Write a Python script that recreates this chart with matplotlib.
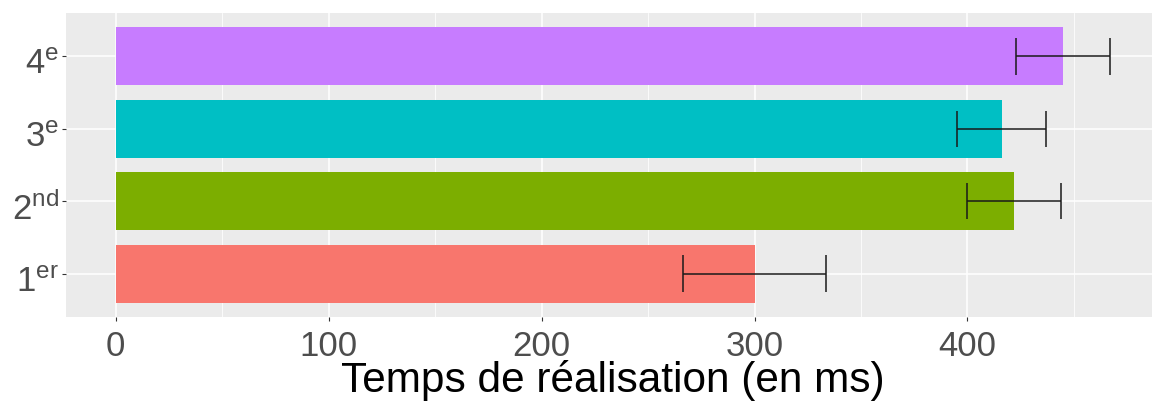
import matplotlib
matplotlib.use("Agg")
import matplotlib.pyplot as plt
import matplotlib.transforms as mtransforms

# data
categories = [r"1$^{\mathrm{er}}$", r"2$^{\mathrm{nd}}$", r"3$^{\mathrm{e}}$", r"4$^{\mathrm{e}}$"]
means = [300, 422, 416, 445]
errors = [33.5, 22, 21, 22]
colors = ["#F8766D", "#7CAE00", "#00BFC4", "#C77CFF"]
xticks = [0, 100, 200, 300, 400]
xminor = [50, 150, 250, 350, 450]

plt.rcParams.update({"font.family": ["Liberation Sans", "DejaVu Sans"],
                     "mathtext.fontset": "custom",
                     "mathtext.rm": "Liberation Sans",
                     "mathtext.it": "Liberation Sans:italic"})

W, H = 1152, 401
fig = plt.figure(figsize=(W / 100, H / 100), dpi=100)
# panel from x=66px to ~1160px (clipped by the figure), y=13..317px
ax = fig.add_axes([66 / W, (H - 317) / H, (1160 - 66) / W, (317 - 13) / H])
ax.set_facecolor("#EBEBEB")
for s in ax.spines.values():
    s.set_visible(False)

ypos = list(range(1, len(categories) + 1))
ax.barh(ypos, means, height=0.8, color=colors, zorder=2)

lo = [m - e for m, e in zip(means, errors)]
hi = [m + e for m, e in zip(means, errors)]
ax.hlines(ypos, lo, hi, color="#1a1a1a", lw=1.1, zorder=3)
for y, a, b in zip(ypos, lo, hi):
    ax.vlines([a, b], y - 0.25, y + 0.25, color="#1a1a1a", lw=1.1, zorder=3)

ax.set_xlim(-23.35, 490.4)
ax.set_ylim(0.4, 4.6)
ax.set_xticks(xticks)
ax.set_xticks(xminor, minor=True)
ax.set_yticks(ypos)
ax.set_yticklabels(categories)
ax.grid(which="major", color="white", lw=1.1, zorder=0)
ax.grid(which="minor", axis="x", color="white", lw=0.55, zorder=0)
ax.set_axisbelow(True)

ax.tick_params(axis="both", which="major", length=3.2, width=0.8, color="#333333",
               labelsize=25, labelcolor="#4D4D4D")
ax.tick_params(axis="x", which="major", pad=6)
ax.tick_params(axis="y", which="major", pad=2)
ax.tick_params(which="minor", length=0)

# ggplot centres the whole label (digit + superscript), so the digit sits lower
shift = mtransforms.ScaledTranslation(0, -5 / 100, fig.dpi_scale_trans)
for lbl in ax.get_yticklabels():
    lbl.set_transform(lbl.get_transform() + shift)

ax.set_xlabel("Temps de réalisation (en ms)", fontsize=30.5, color="black")
ax.xaxis.label.set_va("baseline")
ax.xaxis.set_label_coords(0.5, (H - 392 - 84) / 304)

fig.savefig("out.png", dpi=100)
